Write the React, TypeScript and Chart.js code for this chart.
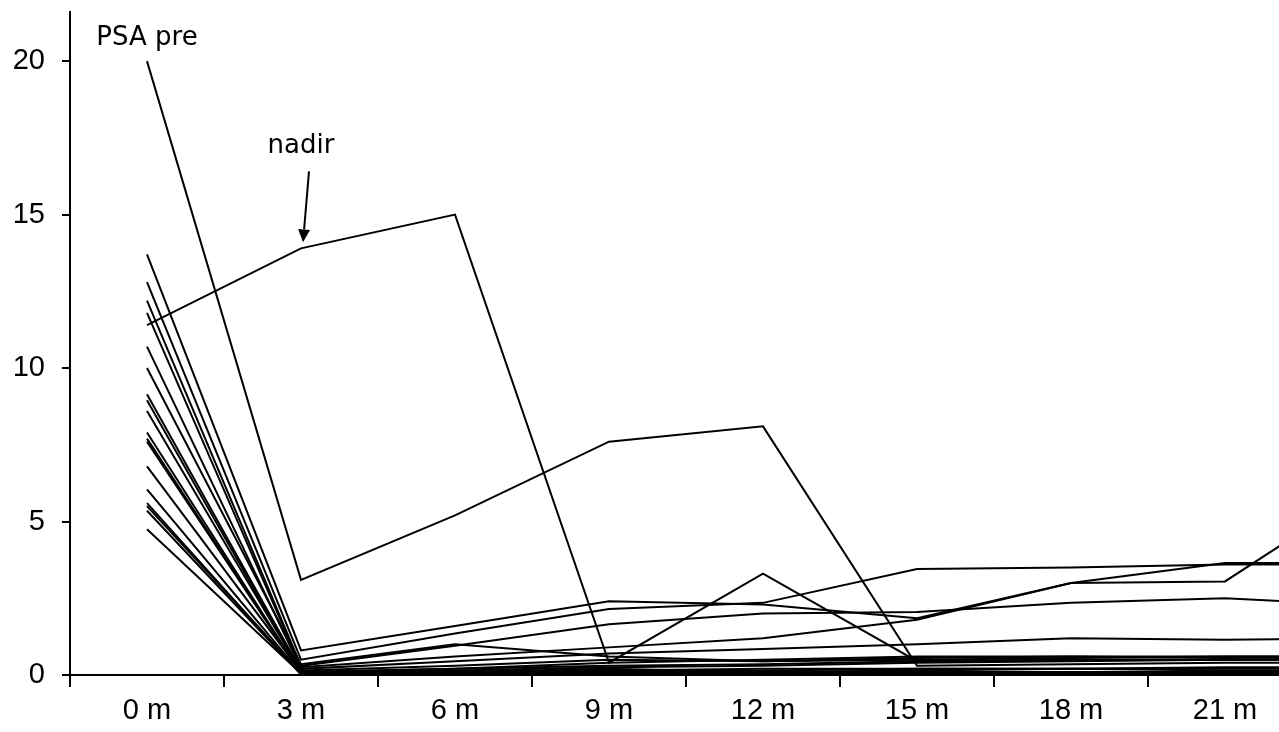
import React, { useEffect, useRef } from "react";
import { Chart, registerables } from "chart.js";

Chart.register(...registerables);

const months = ["0 m", "3 m", "6 m", "9 m", "12 m", "15 m", "18 m", "21 m", "24 m"];
const yTicks = [0, 5, 10, 15, 20];

const psaPre = [20, 3.1, 5.2, 7.6, 8.1, 0.3, 0.35, 0.4, 0.4];
const nadirSeries = [11.4, 13.9, 15.0, 0.4, 3.3, 0.45, 0.5, 0.5, 0.5];
const s03 = [13.7, 0.8, 1.6, 2.4, 2.3, 1.85, 3.0, 3.05, 6.3];
const s04 = [12.8, 0.5, 1.35, 2.15, 2.35, 3.45, 3.5, 3.6, 3.6];
const s05 = [12.2, 0.3, 0.95, 1.65, 2.0, 2.05, 2.35, 2.5, 2.25];
const s06 = [11.8, 0.25, 0.6, 0.9, 1.2, 1.8, 3.0, 3.65, 3.65];
const s07 = [10.7, 0.2, 0.45, 0.7, 0.85, 1.0, 1.2, 1.15, 1.2];
const s08 = [10.0, 0.35, 1.0, 0.6, 0.45, 0.55, 0.6, 0.6, 0.6];
const s09 = [9.15, 0.15, 0.3, 0.5, 0.45, 0.5, 0.55, 0.6, 0.6];
const s10 = [8.95, 0.1, 0.2, 0.3, 0.35, 0.45, 0.5, 0.5, 0.55];
const s11 = [8.6, 0.1, 0.15, 0.25, 0.3, 0.4, 0.45, 0.5, 0.5];
const s12 = [7.9, 0.05, 0.1, 0.15, 0.2, 0.2, 0.2, 0.25, 0.25];
const s13 = [7.7, 0.05, 0.1, 0.1, 0.1, 0.1, 0.1, 0.1, 0.1];
const s14 = [7.6, 0.05, 0.05, 0.05, 0.05, 0.05, 0.05, 0.05, 0.05];
const s15 = [6.8, 0.1, 0.2, 0.4, 0.5, 0.6, 0.6, 0.55, 0.6];
const s16 = [6.05, 0.05, 0.05, 0.1, 0.1, 0.1, 0.1, 0.1, 0.1];
const s17 = [5.6, 0.02, 0.03, 0.03, 0.03, 0.03, 0.03, 0.03, 0.03];
const s18 = [5.5, 0.05, 0.1, 0.2, 0.1, 0.15, 0.2, 0.15, 0.15];
const s19 = [5.35, 0.02, 0.02, 0.02, 0.02, 0.02, 0.02, 0.02, 0.02];
const s20 = [4.75, 0.05, 0.08, 0.1, 0.15, 0.2, 0.2, 0.2, 0.2];

const allSeries = [
  psaPre, nadirSeries, s03, s04, s05, s06, s07, s08, s09, s10,
  s11, s12, s13, s14, s15, s16, s17, s18, s19, s20,
];

const annotationPlugin = {
  id: "psaAnnotations",
  afterDatasetsDraw(chart: any) {
    const ctx = chart.ctx;
    const xs = chart.scales.x;
    const ys = chart.scales.y;
    ctx.save();
    ctx.fillStyle = "#000";
    ctx.strokeStyle = "#000";
    ctx.font = "26px 'DejaVu Sans'";
    ctx.textAlign = "center";
    ctx.textBaseline = "alphabetic";
    const px = xs.getPixelForValue(0);
    const py = ys.getPixelForValue(psaPre[0]);
    ctx.fillText("PSA pre", px, py - 16);

    const nx = xs.getPixelForValue(1);
    const ny = ys.getPixelForValue(nadirSeries[1]);
    ctx.fillText("nadir", nx, ny - 95);

    const sx = nx + 8, sy = ny - 77;
    const tx = nx + 2, ty = ny - 6;
    const ang = Math.atan2(ty - sy, tx - sx);
    const hl = 13, hw = 6;
    const bx = tx - hl * Math.cos(ang);
    const by = ty - hl * Math.sin(ang);
    ctx.lineWidth = 2;
    ctx.beginPath();
    ctx.moveTo(sx, sy);
    ctx.lineTo(bx, by);
    ctx.stroke();
    ctx.beginPath();
    ctx.moveTo(tx, ty);
    ctx.lineTo(bx + hw * Math.sin(ang), by - hw * Math.cos(ang));
    ctx.lineTo(bx - hw * Math.sin(ang), by + hw * Math.cos(ang));
    ctx.closePath();
    ctx.fill();
    ctx.restore();
  },
};

export default function App() {
  const canvasRef = useRef<HTMLCanvasElement | null>(null);

  useEffect(() => {
    if (!canvasRef.current) return;
    const chart = new Chart(canvasRef.current, {
      type: "line",
      data: {
        labels: months,
        datasets: allSeries.map((s, i) => ({
          label: "Patient " + (i + 1),
          data: s,
          borderColor: "#000",
          borderWidth: 2,
          pointRadius: 0,
          tension: 0,
          fill: false,
        })),
      },
      options: {
        responsive: false,
        animation: false,
        devicePixelRatio: 1,
        layout: { padding: { top: 12, left: 0, right: 4, bottom: 0 } },
        plugins: {
          legend: { display: false },
          tooltip: { enabled: false },
          title: { display: false },
        },
        scales: {
          x: {
            type: "category",
            offset: true,
            afterFit: (scale: any) => {
              scale.height = 57;
              scale.paddingLeft = 0;
              scale.paddingRight = 0;
            },
            grid: {
              display: true,
              offset: true,
              drawOnChartArea: false,
              drawTicks: true,
              tickLength: 12,
              color: "#000",
              lineWidth: 2,
            },
            border: { display: true, color: "#000", width: 2 },
            ticks: {
              color: "#000",
              font: { family: "'Liberation Sans', Arial", size: 29 },
              padding: 7,
              maxRotation: 0,
              autoSkip: false,
            },
          },
          y: {
            min: 0,
            max: 21.6,
            afterFit: (scale: any) => {
              scale.width = 70;
              scale.paddingTop = 0;
              scale.paddingBottom = 0;
            },
            afterBuildTicks: (scale: any) => {
              scale.ticks = yTicks.map((v) => ({ value: v }));
            },
            grid: {
              display: true,
              drawOnChartArea: false,
              drawTicks: true,
              tickLength: 8,
              color: "#000",
              lineWidth: 2,
            },
            border: { display: true, color: "#000", width: 2 },
            ticks: {
              color: "#000",
              font: { family: "'Liberation Sans', Arial", size: 29 },
              padding: 17,
            },
          },
        },
      },
      plugins: [annotationPlugin],
    });
    return () => chart.destroy();
  }, []);

  return (
    <div
      style={{
        position: "fixed",
        left: 0,
        top: 0,
        width: 1279,
        height: 732,
        overflow: "hidden",
        background: "#fff",
      }}
    >
      <canvas
        ref={canvasRef}
        width={1460}
        height={732}
        style={{ width: 1460, height: 732, display: "block" }}
      />
    </div>
  );
}
